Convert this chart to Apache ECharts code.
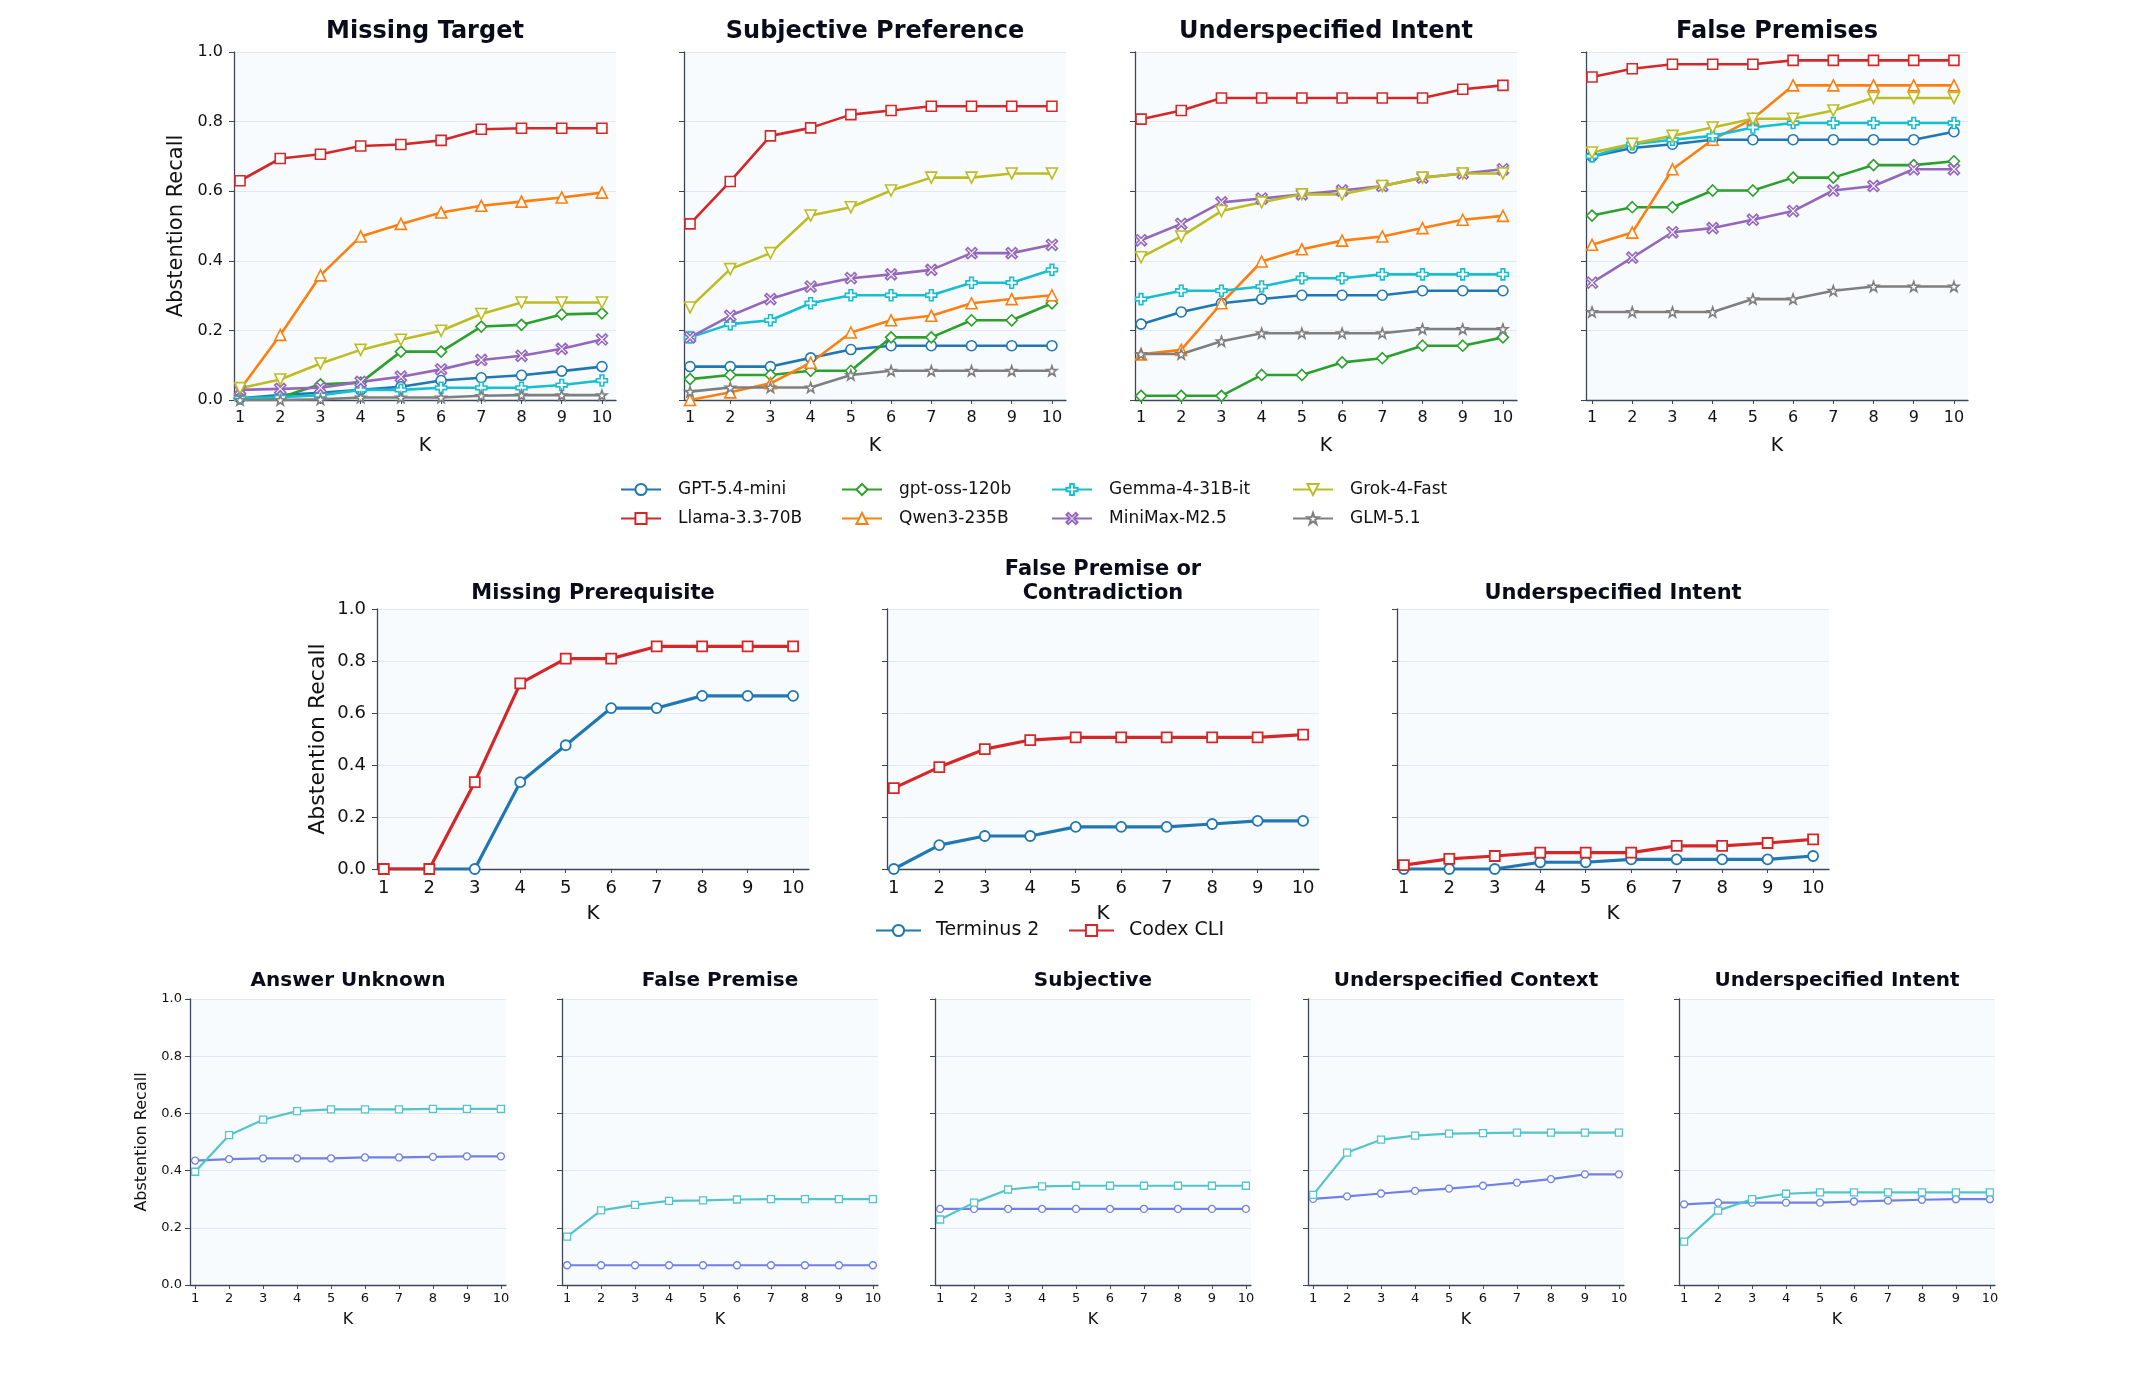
<!DOCTYPE html>
<html>
<head>
<meta charset="utf-8">
<script src="https://cdn.jsdelivr.net/npm/echarts@6/dist/echarts.min.js"></script>
<style>
  html, body { margin: 0; padding: 0; background: #fff; }
  #chart { width: 2138px; height: 1375px; }
</style>
</head>
<body>
<div id="chart"></div>
<script>
// ---- data ----
const kValues = [1, 2, 3, 4, 5, 6, 7, 8, 9, 10];

const topModels = ['GPT-5.4-mini', 'Llama-3.3-70B', 'gpt-oss-120b', 'Qwen3-235B',
                   'Gemma-4-31B-it', 'MiniMax-M2.5', 'Grok-4-Fast', 'GLM-5.1'];
const topTitles = ['Missing Target', 'Subjective Preference', 'Underspecified Intent', 'False Premises'];

// rows follow topModels order
const missingTarget = [
  [0.005, 0.014, 0.021, 0.029, 0.038, 0.056, 0.064, 0.071, 0.083, 0.096],
  [0.63, 0.694, 0.706, 0.73, 0.734, 0.746, 0.778, 0.781, 0.781, 0.781],
  [0.005, 0.007, 0.045, 0.05, 0.139, 0.139, 0.211, 0.216, 0.246, 0.249],
  [0.03, 0.187, 0.358, 0.47, 0.506, 0.539, 0.558, 0.57, 0.582, 0.596],
  [0.005, 0.008, 0.014, 0.029, 0.029, 0.035, 0.035, 0.035, 0.043, 0.056],
  [0.029, 0.032, 0.035, 0.052, 0.067, 0.088, 0.115, 0.127, 0.147, 0.174],
  [0.034, 0.059, 0.105, 0.144, 0.173, 0.199, 0.247, 0.28, 0.28, 0.28],
  [0, 0, 0.002, 0.007, 0.007, 0.007, 0.012, 0.014, 0.014, 0.014]
];
const subjectivePref = [
  [0.096, 0.096, 0.096, 0.121, 0.145, 0.156, 0.156, 0.156, 0.156, 0.156],
  [0.506, 0.628, 0.759, 0.782, 0.82, 0.832, 0.844, 0.844, 0.844, 0.844],
  [0.06, 0.072, 0.072, 0.084, 0.084, 0.18, 0.18, 0.229, 0.229, 0.278],
  [0, 0.022, 0.048, 0.107, 0.194, 0.229, 0.242, 0.278, 0.29, 0.301],
  [0.18, 0.218, 0.229, 0.278, 0.301, 0.301, 0.301, 0.337, 0.337, 0.374],
  [0.18, 0.242, 0.29, 0.326, 0.35, 0.361, 0.374, 0.422, 0.422, 0.446],
  [0.266, 0.376, 0.422, 0.53, 0.554, 0.602, 0.639, 0.639, 0.651, 0.651],
  [0.024, 0.036, 0.036, 0.036, 0.072, 0.084, 0.084, 0.084, 0.084, 0.084]
];
const underspecIntent = [
  [0.218, 0.253, 0.278, 0.29, 0.301, 0.301, 0.301, 0.314, 0.314, 0.314],
  [0.807, 0.832, 0.868, 0.868, 0.868, 0.868, 0.868, 0.868, 0.893, 0.904],
  [0.012, 0.012, 0.012, 0.072, 0.072, 0.108, 0.12, 0.156, 0.156, 0.18],
  [0.131, 0.144, 0.278, 0.398, 0.433, 0.458, 0.47, 0.494, 0.518, 0.529],
  [0.29, 0.314, 0.314, 0.326, 0.35, 0.35, 0.361, 0.361, 0.361, 0.361],
  [0.459, 0.506, 0.568, 0.579, 0.591, 0.602, 0.615, 0.639, 0.651, 0.663],
  [0.41, 0.47, 0.543, 0.568, 0.591, 0.591, 0.615, 0.639, 0.651, 0.651],
  [0.132, 0.132, 0.169, 0.192, 0.192, 0.192, 0.192, 0.204, 0.204, 0.204]
];
const falsePremises = [
  [0.7, 0.724, 0.735, 0.748, 0.748, 0.748, 0.748, 0.748, 0.748, 0.771],
  [0.928, 0.952, 0.965, 0.965, 0.965, 0.976, 0.976, 0.976, 0.976, 0.976],
  [0.53, 0.554, 0.554, 0.602, 0.602, 0.639, 0.639, 0.675, 0.675, 0.686],
  [0.446, 0.481, 0.663, 0.748, 0.808, 0.904, 0.904, 0.904, 0.904, 0.904],
  [0.7, 0.735, 0.748, 0.759, 0.783, 0.796, 0.796, 0.796, 0.796, 0.796],
  [0.337, 0.409, 0.482, 0.494, 0.518, 0.543, 0.602, 0.615, 0.663, 0.663],
  [0.711, 0.736, 0.759, 0.783, 0.808, 0.808, 0.832, 0.868, 0.868, 0.868],
  [0.253, 0.253, 0.253, 0.253, 0.29, 0.29, 0.314, 0.326, 0.326, 0.326]
];

const agentNames = ['Terminus 2', 'Codex CLI'];
const agentTitles = ['Missing Prerequisite', 'False Premise or\nContradiction', 'Underspecified Intent'];
const missingPrereq = [
  [0, 0, 0, 0.334, 0.476, 0.619, 0.619, 0.666, 0.666, 0.666],
  [0, 0, 0.334, 0.714, 0.809, 0.809, 0.856, 0.856, 0.856, 0.856]
];
const premiseContradiction = [
  [0, 0.092, 0.127, 0.127, 0.162, 0.162, 0.162, 0.173, 0.185, 0.185],
  [0.311, 0.392, 0.461, 0.496, 0.506, 0.506, 0.506, 0.506, 0.506, 0.517]
];
const agentUnderspec = [
  [0, 0, 0, 0.026, 0.026, 0.037, 0.037, 0.037, 0.037, 0.05],
  [0.015, 0.039, 0.05, 0.063, 0.063, 0.063, 0.089, 0.089, 0.1, 0.114]
];

// bottom row: two unlabelled series (circle, square)
const bottomNames = ['circle', 'square'];
const bottomTitles = ['Answer Unknown', 'False Premise', 'Subjective', 'Underspecified Context', 'Underspecified Intent'];
const answerUnknown = [
  [0.435, 0.44, 0.443, 0.443, 0.443, 0.446, 0.446, 0.448, 0.45, 0.45],
  [0.396, 0.524, 0.578, 0.608, 0.614, 0.614, 0.614, 0.616, 0.616, 0.616]
];
const falsePremise = [
  [0.069, 0.069, 0.069, 0.069, 0.069, 0.069, 0.069, 0.069, 0.069, 0.069],
  [0.169, 0.261, 0.28, 0.294, 0.296, 0.299, 0.3, 0.3, 0.3, 0.3]
];
const subjective = [
  [0.266, 0.266, 0.266, 0.266, 0.266, 0.266, 0.266, 0.266, 0.266, 0.266],
  [0.229, 0.288, 0.334, 0.345, 0.347, 0.347, 0.347, 0.347, 0.347, 0.347]
];
const underspecContext = [
  [0.301, 0.31, 0.32, 0.329, 0.337, 0.347, 0.358, 0.37, 0.387, 0.387],
  [0.315, 0.463, 0.508, 0.522, 0.529, 0.531, 0.533, 0.533, 0.533, 0.533]
];
const underspecIntent2 = [
  [0.282, 0.288, 0.288, 0.288, 0.288, 0.292, 0.295, 0.298, 0.3, 0.3],
  [0.152, 0.26, 0.3, 0.319, 0.324, 0.324, 0.324, 0.324, 0.324, 0.324]
];

// ---- styles ----
const FONT = '"DejaVu Sans", sans-serif';
const AXIS = '#3d4759';
const TXT = '#111111';
const PLUS = 'path://M-1,-3H1V-1H3V1H1V3H-1V1H-3V-1H-1Z';
const XMARK = 'path://M-2,-3L0,-1L2,-3L3,-2L1,0L3,2L2,3L0,1L-2,3L-3,2L-1,0L-3,-2Z';
const TRIDOWN = 'path://M-1,-1L1,-1L0,1Z';
const STAR = 'path://M0,-5L1.18,-1.62L4.76,-1.55L1.9,0.62L2.94,4.05L0,2L-2.94,4.05L-1.9,0.62L-4.76,-1.55L-1.18,-1.62Z';
const topColors = ['#1f77b4', '#d62728', '#2ca02c', '#ff7f0e', '#17becf', '#9467bd', '#bcbd22', '#7f7f7f'];
const topSymbols = ['circle', 'rect', 'diamond', 'triangle', PLUS, XMARK, TRIDOWN, STAR];
const topSizes = [10, 10, 11, 11, 11, 11, 11, 10];
const agentColors = ['#1f77b4', '#d62728'];
const agentSymbols = ['circle', 'rect'];
const bottomColors = ['#6f80e8', '#52c4cb'];
const bottomSymbols = ['circle', 'rect'];

const grids = [], xAxes = [], yAxes = [], series = [], texts = [], legends = [];

function addPanel(box, title, st, showY) {
  const i = grids.length;
  grids.push({ left: box[0], top: box[1], width: box[2], height: box[3], show: true,
    backgroundColor: '#f8fbfe', borderWidth: 0 });
  xAxes.push({
    type: 'value', gridIndex: i, min: 0.85, max: st.xMax,
    name: 'K', nameLocation: 'middle', nameGap: st.xNameGap,
    nameTextStyle: { fontSize: st.nameSize, color: TXT, fontFamily: FONT },
    axisLine: { show: true, onZero: false, lineStyle: { color: AXIS, width: 1.3 } },
    axisTick: { show: true, customValues: kValues, length: 4, lineStyle: { color: AXIS } },
    axisLabel: { customValues: kValues, fontSize: st.tick, color: TXT, margin: st.xMargin, fontFamily: FONT },
    splitLine: { show: false }
  });
  yAxes.push({
    type: 'value', gridIndex: i, min: 0, max: 1, interval: 0.2,
    name: showY ? 'Abstention Recall' : '', nameLocation: 'middle', nameGap: st.yNameGap,
    nameTextStyle: { fontSize: st.yName, color: TXT, fontFamily: FONT },
    axisLine: { show: true, lineStyle: { color: AXIS, width: 1.3 } },
    axisTick: { show: true, length: 5, lineStyle: { color: AXIS } },
    axisLabel: { show: showY, fontSize: st.tick, color: TXT, margin: st.yMargin, fontFamily: FONT,
      formatter: v => v.toFixed(1) },
    splitLine: { show: true, lineStyle: { color: '#e3e8ef', width: 1.2 } }
  });
  texts.push({ type: 'text', x: box[0] + box[2] / 2, y: st.titleY,
    style: { text: title, fill: '#0b0b1a', fontSize: st.titleSize, fontWeight: 'bold', fontFamily: FONT,
      align: 'center', verticalAlign: 'middle', lineHeight: st.titleSize + 3 } });
  return i;
}

function addLine(gi, name, vals, color, symbol, size, lw, bw) {
  series.push({
    type: 'line', name: name, xAxisIndex: gi, yAxisIndex: gi,
    data: kValues.map((k, j) => [k, vals[j]]),
    symbol: symbol, symbolSize: size, showAllSymbol: true,
    lineStyle: { color: color, width: lw },
    itemStyle: { color: '#ffffff', borderColor: color, borderWidth: bw },
    emphasis: { disabled: true }
  });
}

// top row
const topStyle = { xMax: 10.35, xNameGap: 37, nameSize: 19, tick: 16, xMargin: 10, yMargin: 11,
  yNameGap: 47, yName: 21, titleY: 32, titleSize: 24 };
const topLefts = [234, 684, 1135, 1586];
[missingTarget, subjectivePref, underspecIntent, falsePremises].forEach((panel, p) => {
  const gi = addPanel([topLefts[p], 52, 382, 348], topTitles[p], topStyle, p === 0);
  panel.forEach((vals, m) => addLine(gi, topModels[m], vals, topColors[m], topSymbols[m], topSizes[m], 2.6, 1.6));
});

// middle row
const midStyle = { xMax: 10.35, xNameGap: 35, nameSize: 20, tick: 18, xMargin: 10, yMargin: 11,
  yNameGap: 48, yName: 22, titleY: 594, titleSize: 21 };
const midLefts = [377, 887, 1397];
[missingPrereq, premiseContradiction, agentUnderspec].forEach((panel, p) => {
  const st = Object.assign({}, midStyle, { titleY: p === 1 ? 582 : 594 });
  const gi = addPanel([midLefts[p], 609, 432, 260], agentTitles[p], st, p === 0);
  panel.forEach((vals, m) => addLine(gi, agentNames[m], vals, agentColors[m], agentSymbols[m], 10, 3.2, 1.8));
});

// bottom row
const botStyle = { xMax: 10.15, xNameGap: 27, nameSize: 16, tick: 13, xMargin: 7, yMargin: 8,
  yNameGap: 40, yName: 16, titleY: 981, titleSize: 20 };
const botLefts = [190, 562, 935, 1308, 1679];
[answerUnknown, falsePremise, subjective, underspecContext, underspecIntent2].forEach((panel, p) => {
  const gi = addPanel([botLefts[p], 999, 316, 286], bottomTitles[p], botStyle, p === 0);
  panel.forEach((vals, m) => addLine(gi, bottomNames[m] + '-' + p, vals, bottomColors[m], bottomSymbols[m], 7, 2.2, 1.3));
});

// legends
const legendCols = [620, 841, 1051, 1292];
topModels.forEach((name, m) => {
  legends.push({ data: [name], left: legendCols[Math.floor(m / 2)], top: m % 2 === 0 ? 481 : 510,
    padding: 0, itemWidth: 40, itemHeight: 14, selectedMode: false,
    textStyle: { fontSize: 17, color: TXT, fontFamily: FONT, padding: [0, 0, 0, 12] } });
});
[875, 1068].forEach((x, m) => {
  legends.push({ data: [agentNames[m]], left: x, top: 921, padding: 0, itemWidth: 45, itemHeight: 14,
    selectedMode: false, textStyle: { fontSize: 19, color: TXT, fontFamily: FONT, padding: [0, 0, 0, 10] } });
});

const chart = echarts.init(document.getElementById('chart'));
chart.setOption({
  animation: false,
  backgroundColor: '#ffffff',
  grid: grids,
  xAxis: xAxes,
  yAxis: yAxes,
  legend: legends,
  series: series,
  graphic: { elements: texts }
});
</script>
</body>
</html>
